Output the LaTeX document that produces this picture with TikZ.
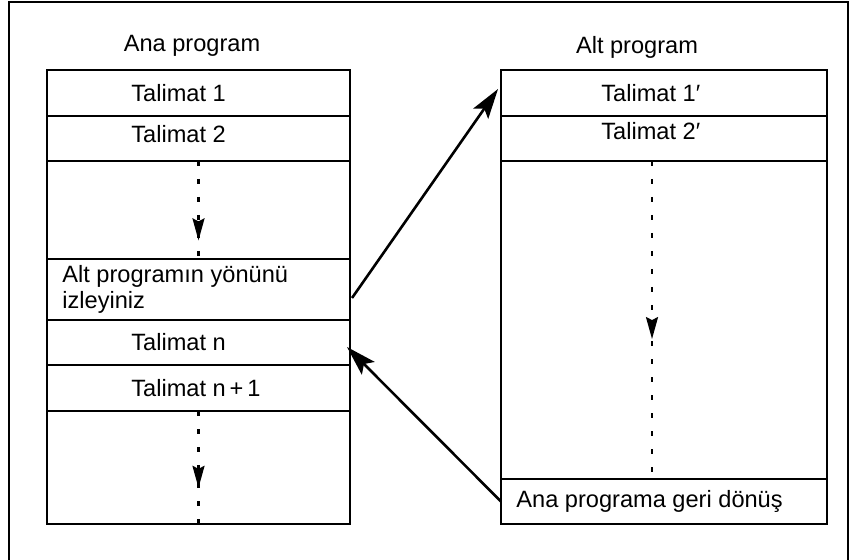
\documentclass[tikz,border=0pt]{standalone}
\usepackage{fontspec}
\setmainfont{Liberation Sans}
\usetikzlibrary{arrows.meta,positioning,decorations.markings}

\begin{document}
\begin{tikzpicture}[
    rowl/.style={draw, line width=0.9pt, minimum width=151.5pt, minimum height=#1, inner sep=0pt, outer sep=0pt},
    rowr/.style={draw, line width=0.9pt, minimum width=163pt, minimum height=#1, inner sep=0pt, outer sep=0pt},
    txt/.style={inner sep=0pt, font=\fontsize{11.8}{13}\selectfont, align=left},
    flow/.style={dash pattern=on 2.5pt off 6.5pt, line width=1.1pt, postaction={decorate},
        decoration={markings, mark=at position #1 with {\arrow{Stealth[length=11pt,width=6pt,inset=1.5pt]}}}},
    jump/.style={-{Stealth[length=15pt,width=9pt,inset=3pt]}, line width=1.3pt}
]
\useasboundingbox (0,0) rectangle (427pt,-280pt);
\draw[line width=1pt] (4.5pt,-280pt) |- (424pt,-1pt) -- (424pt,-280pt);

% ana program
\node[txt] (ana) at (96pt,-23pt) {Ana program};
\node[rowl=23pt, anchor=north west] (l1) at (23.5pt,-35pt) {};
\node[rowl=22.5pt, below=0pt of l1] (l2) {};
\node[rowl=49pt, below=0pt of l2] (l3) {};
\node[rowl=30.5pt, below=0pt of l3] (l4) {};
\node[rowl=22.5pt, below=0pt of l4] (l5) {};
\node[rowl=23pt, below=0pt of l5] (l6) {};
\node[rowl=56.5pt, below=0pt of l6] (l7) {};

\node[txt, right=42pt of l1.west] (tl1) {Talimat 1};
\node[txt, right=42pt of l2.west, yshift=2pt] (tl2) {Talimat 2};
\node[txt, right=7.5pt of l4.west] (tl4) {Alt programın yönünü\\izleyiniz};
\node[txt, right=42pt of l5.west] (tl5) {Talimat n};
\node[txt, right=42pt of l6.west] (tl6) {Talimat n\,+\,1};

\draw[flow=0.81] (l3.north) -- (l3.south);
\draw[flow=0.68] (l7.north) -- (l7.south);

% alt program
\node[txt] (alt) at (318.5pt,-23.5pt) {Alt program};
\node[rowr=23pt, anchor=north west] (r1) at (250.5pt,-35pt) {};
\node[rowr=22.5pt, below=0pt of r1] (r2) {};
\node[rowr=159pt, below=0pt of r2] (r3) {};
\node[rowr=22.5pt, below=0pt of r3] (r4) {};

\node[txt, right=50pt of r1.west] (tr1) {Talimat 1′};
\node[txt, right=50pt of r2.west, yshift=3.5pt] (tr2) {Talimat 2′};
\node[txt, right=7.5pt of r4.west] (tr4) {Ana programa geri dönüş};

\draw[flow=0.56] ([xshift=-6pt]r3.north) -- ([xshift=-6pt]r3.south);

% cagri ve donus
\draw[jump] ([xshift=1pt,yshift=-4.25pt]l4.east) -- ([xshift=-1.5pt,yshift=2pt]r1.west);
\draw[jump] (r4.west) -- ([xshift=-1.5pt,yshift=-2.25pt]l5.east);
\end{tikzpicture}
\end{document}
